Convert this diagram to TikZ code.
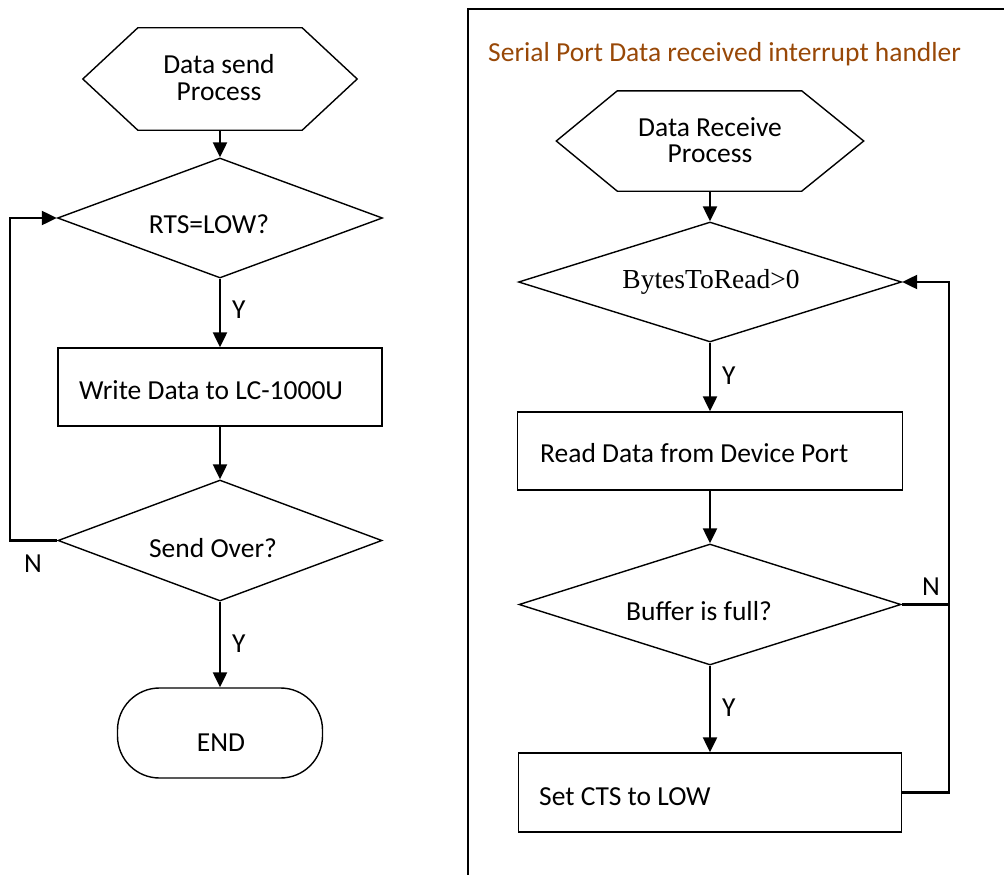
\documentclass[tikz,border=0pt]{standalone}
\usepackage{fontspec}
\setmainfont{Carlito}
\newfontfamily\timesrm{Liberation Serif}
\usetikzlibrary{arrows.meta,shapes.geometric}
\definecolor{titlebrown}{RGB}{152,72,7}

\begin{document}
\begin{tikzpicture}[x=1pt,y=-1pt,
  outline/.style={draw=black, line width=1.4pt},
  stepbox/.style={outline, rectangle, inner sep=0pt},
  decision/.style={outline, diamond, inner sep=0pt},
  hexbase/.style={rectangle, inner sep=0pt},
  terminal/.style={outline, rectangle, rounded corners=42pt, inner sep=0pt},
  txt/.style={inner sep=0pt, font=\fontsize{27.5}{26.5}\selectfont},
  flow/.style={line width=2.3pt, -{Triangle[length=15pt,width=14pt]}},
  link/.style={line width=2.3pt},
  frameline/.style={line width=2pt},
]
\useasboundingbox (0,0) rectangle (1004,875);
\clip (0,0) rectangle (1004,875);

% ---------- sending side ----------
\node[hexbase, minimum width=274pt, minimum height=102pt] (hexA) at (220,79) {};
\draw[outline] (hexA.west) -- ([xshift=55pt]hexA.north west) -- ([xshift=-55pt]hexA.north east)
  -- (hexA.east) -- ([xshift=-55pt]hexA.south east) -- ([xshift=55pt]hexA.south west) -- cycle;
\node[txt, align=center] (tHexA) at (219,77.5) {Data send\\Process};

\node[decision, minimum width=325pt, minimum height=120pt] (rts) at (220,218) {};
\node[txt, anchor=base] (tRts) at (209,233) {RTS=LOW?};

\node[stepbox, minimum width=324pt, minimum height=78pt] (write) at (220,387) {};
\node[txt, anchor=base west] (tWrite) at (79,399) {Write Data to LC-1000U};

\node[decision, minimum width=324pt, minimum height=121pt] (over) at (220,540.5) {};
\node[txt, anchor=base] (tOver) at (213,557) {Send Over?};

\node[terminal, minimum width=205pt, minimum height=90pt] (stop) at (220,733) {};
\node[txt, anchor=base] (tStop) at (221,751) {END};

\coordinate (loopA) at (10,0);

\draw[flow] (hexA.south) -- (rts.north);
\draw[flow] (rts.south) -- (write.north);
\draw[flow] (write.south) -- (over.north);
\draw[flow] (over.south) -- (stop.north);
\draw[flow] (over.west) -- (over.west -| loopA) |- (rts.west);

\node[txt, anchor=base west] (yA1) at (232,318) {Y};
\node[txt, anchor=base west] (yA2) at (232,652) {Y};
\node[txt, anchor=base west] (nA) at (24,572) {N};

% ---------- receiving side ----------
\draw[frameline] (1010,9) -- (468,9) -- (468,880);
\node[txt, anchor=base west, text=titlebrown] (title) at (488,62)
  {Serial Port Data received interrupt handler};

\node[hexbase, minimum width=307pt, minimum height=100pt] (hexB) at (710,141) {};
\draw[outline] (hexB.west) -- ([xshift=61pt]hexB.north west) -- ([xshift=-62pt]hexB.north east)
  -- (hexB.east) -- ([xshift=-62pt]hexB.south east) -- ([xshift=61pt]hexB.south west) -- cycle;
\node[txt, align=center] (tHexB) at (710,140) {Data Receive\\Process};

\node[decision, minimum width=383pt, minimum height=120pt] (bytes) at (710,282) {};
\node[txt, anchor=base, font=\timesrm\fontsize{27.5}{30}\selectfont] (tBytes) at (711,288) {BytesToRead>0};

\node[stepbox, minimum width=385pt, minimum height=78pt] (read) at (710,451) {};
\node[txt, anchor=base west] (tRead) at (540,462) {Read Data from Device Port};

\node[decision, minimum width=382pt, minimum height=121pt] (full) at (710,604.5) {};
\node[txt, anchor=base] (tFull) at (699,620) {Buffer is full?};

\node[stepbox, minimum width=383pt, minimum height=79pt] (cts) at (710,792.5) {};
\node[txt, anchor=base west] (tCts) at (539,805) {Set CTS to LOW};

\coordinate (loopB) at (949,0);

\draw[flow] (hexB.south) -- (bytes.north);
\draw[flow] (bytes.south) -- (read.north);
\draw[flow] (read.south) -- (full.north);
\draw[flow] (full.south) -- (cts.north);
\draw[link] (full.east) -- (full.east -| loopB);
\draw[flow] (cts.east) -- (cts.east -| loopB) |- (bytes.east);

\node[txt, anchor=base west] (yB1) at (722,384) {Y};
\node[txt, anchor=base west] (yB2) at (722,716) {Y};
\node[txt, anchor=base west] (nB) at (922,595) {N};
\end{tikzpicture}
\end{document}
